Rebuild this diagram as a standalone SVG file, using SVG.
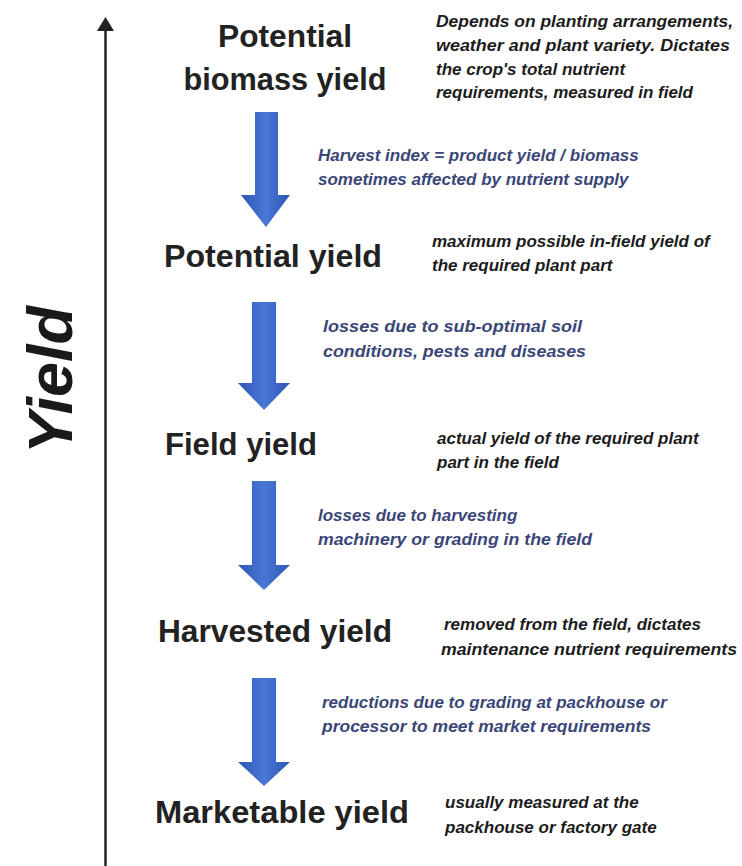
<svg xmlns="http://www.w3.org/2000/svg" width="742" height="866" viewBox="0 0 742 866">
  <defs>
    <linearGradient id="blueArrow" x1="0" y1="0" x2="1" y2="0">
      <stop offset="0" stop-color="#2d55b3"/>
      <stop offset="0.5" stop-color="#4a78d8"/>
      <stop offset="1" stop-color="#2d55b3"/>
    </linearGradient>
    <style>
      .head { font-family: "Liberation Sans", Arial, sans-serif; font-weight: bold; font-size: 31px; fill: #222222; text-anchor: middle; }
      .desc { font-family: "Liberation Sans", Arial, sans-serif; font-weight: bold; font-style: italic; font-size: 17px; fill: #1c1c1c; }
      .lbl { font-family: "Liberation Sans", Arial, sans-serif; font-weight: bold; font-style: italic; font-size: 17px; fill: #3a4677; }
      .axis { font-family: "Liberation Sans", Arial, sans-serif; font-weight: bold; font-style: italic; font-size: 63px; fill: #1a1a1a; text-anchor: middle; }
      .barrow { fill: url(#blueArrow); }
    </style>
  </defs>
  <rect x="0" y="0" width="742" height="866" fill="#ffffff"/>

  <g id="axis">
    <line x1="105.5" y1="28" x2="105.5" y2="866" stroke="#222222" stroke-width="2.5"/>
    <polygon points="105.5,17 97,31 114,31" fill="#222222"/>
    <text class="axis" transform="translate(72,380) rotate(-90)">Yield</text>
  </g>

  <g id="node-potential-biomass">
    <text class="head" x="285" y="47" textLength="134" lengthAdjust="spacingAndGlyphs">Potential</text>
    <text class="head" x="285" y="90" textLength="203" lengthAdjust="spacingAndGlyphs">biomass yield</text>
    <text class="desc" x="436" y="27" textLength="297" lengthAdjust="spacingAndGlyphs">Depends on planting arrangements,</text>
    <text class="desc" x="436" y="51" textLength="294" lengthAdjust="spacingAndGlyphs">weather and plant variety. Dictates</text>
    <text class="desc" x="436" y="75">the crop's total nutrient</text>
    <text class="desc" x="436" y="98">requirements, measured in field</text>
  </g>

  <g id="node-potential-yield">
    <text class="head" x="273" y="267" textLength="218" lengthAdjust="spacingAndGlyphs">Potential yield</text>
    <text class="desc" x="432" y="247">maximum possible in-field yield of</text>
    <text class="desc" x="432" y="271">the required plant part</text>
  </g>

  <g id="node-field-yield">
    <text class="head" x="241" y="455" textLength="152" lengthAdjust="spacingAndGlyphs">Field yield</text>
    <text class="desc" x="437" y="444">actual yield of the required plant</text>
    <text class="desc" x="437" y="468">part in the field</text>
  </g>

  <g id="node-harvested-yield">
    <text class="head" x="275" y="642" textLength="234" lengthAdjust="spacingAndGlyphs">Harvested yield</text>
    <text class="desc" x="444" y="630">removed from the field, dictates</text>
    <text class="desc" x="441" y="655" textLength="296" lengthAdjust="spacingAndGlyphs">maintenance nutrient requirements</text>
  </g>

  <g id="node-marketable-yield">
    <text class="head" x="282" y="823" textLength="254" lengthAdjust="spacingAndGlyphs">Marketable yield</text>
    <text class="desc" x="445" y="808">usually measured at the</text>
    <text class="desc" x="445" y="833">packhouse or factory gate</text>
  </g>

  <g id="connectors">
    <g id="arrow-harvest-index">
      <polygon class="barrow" points="255,112 278,112 278,195 290,195 266,227 241,195 255,195"/>
      <text class="lbl" x="318" y="161">Harvest index = product yield / biomass</text>
      <text class="lbl" x="318" y="185">sometimes affected by nutrient supply</text>
    </g>
    <g id="arrow-soil-losses">
      <polygon class="barrow" points="252,302 276,302 276,383 290,383 264,410 238,383 252,383"/>
      <text class="lbl" x="323" y="332" textLength="259" lengthAdjust="spacingAndGlyphs">losses due to sub-optimal soil</text>
      <text class="lbl" x="323" y="357" textLength="263" lengthAdjust="spacingAndGlyphs">conditions, pests and diseases</text>
    </g>
    <g id="arrow-harvest-losses">
      <polygon class="barrow" points="252,481 276,481 276,565 290,565 264,590 238,565 252,565"/>
      <text class="lbl" x="318" y="521">losses due to harvesting</text>
      <text class="lbl" x="318" y="545" textLength="274" lengthAdjust="spacingAndGlyphs">machinery or grading in the field</text>
    </g>
    <g id="arrow-grading-reductions">
      <polygon class="barrow" points="252,678 276,678 276,762 290,762 264,786 238,762 252,762"/>
      <text class="lbl" x="322" y="708">reductions due to grading at packhouse or</text>
      <text class="lbl" x="322" y="732" textLength="329" lengthAdjust="spacingAndGlyphs">processor to meet market requirements</text>
    </g>
  </g>
</svg>
